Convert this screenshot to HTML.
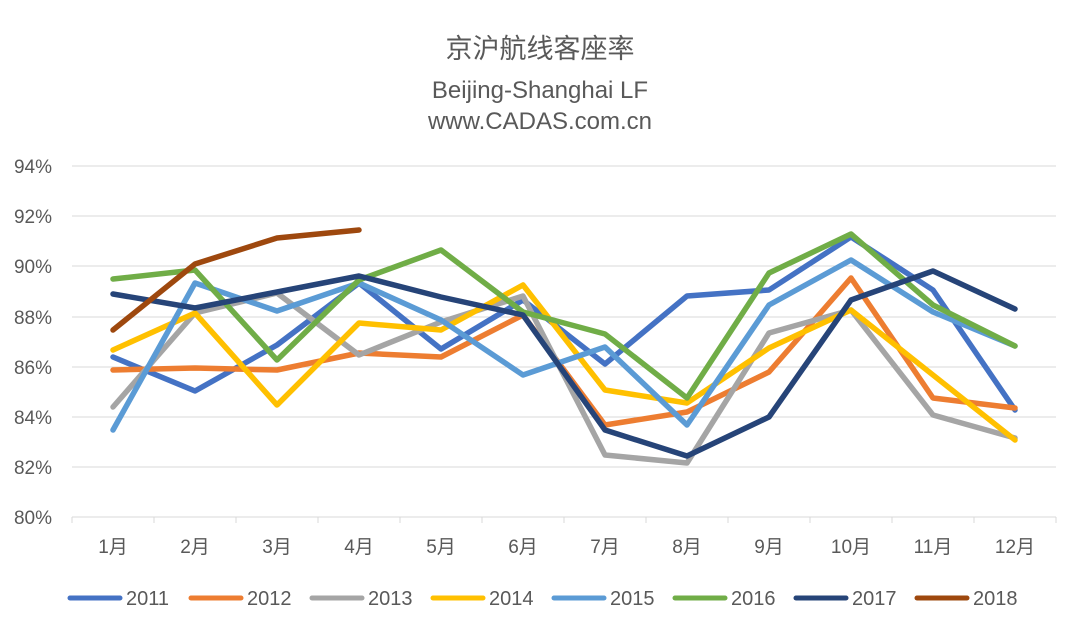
<!DOCTYPE html>
<html><head><meta charset="utf-8"><style>
body{margin:0;background:#fff;}
svg{display:block;font-family:"Liberation Sans","Noto Sans CJK SC",sans-serif;}
</style></head><body>
<svg width="1080" height="633" viewBox="0 0 1080 633">
<rect width="1080" height="633" fill="#fff"/>
<text x="540" y="58" text-anchor="middle" font-size="27" fill="#595959">京沪航线客座率</text>
<text x="540" y="98" text-anchor="middle" font-size="24" fill="#595959">Beijing-Shanghai LF</text>
<text x="540" y="129" text-anchor="middle" font-size="24" fill="#595959">www.CADAS.com.cn</text>
<g stroke="#d9d9d9" stroke-width="1">
<line x1="72" x2="1056" y1="166" y2="166"/><line x1="72" x2="1056" y1="216" y2="216"/>
<line x1="72" x2="1056" y1="266" y2="266"/><line x1="72" x2="1056" y1="317" y2="317"/>
<line x1="72" x2="1056" y1="367" y2="367"/><line x1="72" x2="1056" y1="417" y2="417"/>
<line x1="72" x2="1056" y1="467" y2="467"/><line x1="72" x2="1056" y1="517" y2="517"/>
<line x1="72" x2="72" y1="517" y2="523"/><line x1="154" x2="154" y1="517" y2="523"/><line x1="236" x2="236" y1="517" y2="523"/><line x1="318" x2="318" y1="517" y2="523"/><line x1="400" x2="400" y1="517" y2="523"/><line x1="482" x2="482" y1="517" y2="523"/><line x1="564" x2="564" y1="517" y2="523"/><line x1="646" x2="646" y1="517" y2="523"/><line x1="728" x2="728" y1="517" y2="523"/><line x1="810" x2="810" y1="517" y2="523"/><line x1="892" x2="892" y1="517" y2="523"/><line x1="974" x2="974" y1="517" y2="523"/><line x1="1056" x2="1056" y1="517" y2="523"/>
</g>
<g font-size="19" fill="#595959" text-anchor="end">
<text x="52" y="173">94%</text><text x="52" y="223">92%</text><text x="52" y="273">90%</text><text x="52" y="324">88%</text><text x="52" y="374">86%</text><text x="52" y="424">84%</text><text x="52" y="474">82%</text><text x="52" y="524">80%</text>
</g>
<g font-size="19" fill="#595959" text-anchor="middle">
<text x="113" y="553">1月</text><text x="195" y="553">2月</text><text x="277" y="553">3月</text><text x="359" y="553">4月</text><text x="441" y="553">5月</text><text x="523" y="553">6月</text><text x="605" y="553">7月</text><text x="687" y="553">8月</text><text x="769" y="553">9月</text><text x="851" y="553">10月</text><text x="933" y="553">11月</text><text x="1015" y="553">12月</text>
</g>
<g fill="none" stroke-width="5.5" stroke-linejoin="round" stroke-linecap="round">
<polyline stroke="#4472C4" points="113,357 195,391 277,345 359,283 441,349 523,300 605,364 687,296 769,290 851,237 933,290 1015,410"/>
<polyline stroke="#ED7D31" points="113,370 195,368 277,370 359,353 441,357 523,315 605,425 687,412 769,372 851,278 933,398 1015,408"/>
<polyline stroke="#A5A5A5" points="113,407 195,313 277,293 359,355 441,322 523,296 605,455 687,463 769,333 851,310 933,415 1015,438"/>
<polyline stroke="#FFC000" points="113,350 195,313 277,405 359,323 441,330 523,285 605,390 687,403 769,348 851,310 933,375 1015,440"/>
<polyline stroke="#5B9BD5" points="113,430 195,283 277,311 359,283 441,320 523,375 605,347 687,425 769,305 851,260 933,312 1015,346"/>
<polyline stroke="#70AD47" points="113,279 195,270 277,360 359,280 441,250 523,312 605,334 687,398 769,273 851,234 933,305 1015,346"/>
<polyline stroke="#264478" points="113,294 195,308 277,292 359,276 441,297 523,315 605,430 687,456 769,417 851,300 933,271 1015,309"/>
<polyline stroke="#9E480E" points="113,330 195,264 277,238 359,230"/>
</g>
<g stroke-width="5" stroke-linecap="round">
<line x1="70" x2="120" y1="598" y2="598" stroke="#4472C4"/>
<line x1="191" x2="241" y1="598" y2="598" stroke="#ED7D31"/>
<line x1="312" x2="362" y1="598" y2="598" stroke="#A5A5A5"/>
<line x1="433" x2="483" y1="598" y2="598" stroke="#FFC000"/>
<line x1="554" x2="604" y1="598" y2="598" stroke="#5B9BD5"/>
<line x1="675" x2="725" y1="598" y2="598" stroke="#70AD47"/>
<line x1="796" x2="846" y1="598" y2="598" stroke="#264478"/>
<line x1="917" x2="967" y1="598" y2="598" stroke="#9E480E"/>
</g>
<g font-size="20" fill="#595959">
<text x="126" y="605">2011</text><text x="247" y="605">2012</text><text x="368" y="605">2013</text><text x="489" y="605">2014</text><text x="610" y="605">2015</text><text x="731" y="605">2016</text><text x="852" y="605">2017</text><text x="973" y="605">2018</text>
</g>
</svg>
</body></html>
